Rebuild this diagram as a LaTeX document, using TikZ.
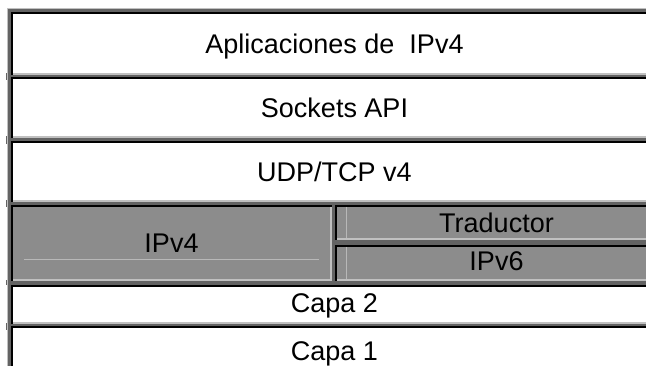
\documentclass[tikz,border=0pt]{standalone}
\usepackage{fontspec}
\setmainfont{Liberation Sans}
\usetikzlibrary{positioning,calc}
\definecolor{tbdark}{HTML}{636363}
\definecolor{tblight}{HTML}{C0C0C0}
\definecolor{tbgray}{HTML}{8C8C8C}
\tikzset{
  layer/.style={fill=white, inner sep=0pt, outer sep=0pt, minimum width=647pt,
    text height=19.3pt, text depth=0pt, font=\fontsize{27}{32}\selectfont},
  graylayer/.style={layer, fill=tbgray},
  rimlight/.style={draw=tblight, line width=2pt},
  rimdark/.style={draw=black, line width=2pt},
  faint/.style={draw=tblight!85!tbgray, line width=0.8pt},
  tickmark/.style={fill=tbdark}
}
\newcommand{\cellrim}[1]{%
  \draw[rimlight] ($(#1.south west)+(0,1)$) -- ($(#1.south east)+(-1,1)$) -- ($(#1.north east)+(-1,0)$);
  \draw[rimdark] ($(#1.south west)+(1,0)$) -- ($(#1.north west)+(1,-1)$) -- ($(#1.north east)+(0,-1)$);}

\begin{document}
\begin{tikzpicture}[x=1pt, y=1pt, node distance=3pt]
  \useasboundingbox (0,0) rectangle (646,366);
  \fill[white] (0,0) rectangle (646,366);
  \clip (0,0) rectangle (646,366);
  \fill[tblight] (7,-5) rectangle (660,358);
  \fill[tbdark] (8,-5) rectangle (660,357);
  \foreach \y/\h in {286/7, 222/8, 159/7, 81/5, 36/7}
    \fill[tickmark] (5.8,\y) rectangle (7.2,{\y+\h});

  \node[layer, minimum height=62.4pt, anchor=north west] (apps) at (11,353.7) {Aplicaciones de\ \ IPv4};
  \node[layer, minimum height=60.7pt, below=2.6pt of apps] (sockets) {Sockets API};
  \node[layer, minimum height=60.7pt, below=3.3pt of sockets] (udptcp) {UDP/TCP v4};
  \node[graylayer, minimum width=321pt, minimum height=75.7pt, below=3pt of udptcp.south west, anchor=north west] (ipvfour) {IPv4};
  \node[graylayer, minimum width=323pt, minimum height=35pt, right=3pt of ipvfour.north east, anchor=north west] (traductor) {Traductor};
  \node[graylayer, minimum width=323pt, minimum height=36pt, text depth=5pt, below=5pt of traductor] (ipvsix) {IPv6};
  \node[layer, minimum height=39pt, text depth=4pt, below=4.3pt of ipvfour.south west, anchor=north west] (capados) {Capa 2};
  \node[layer, minimum height=54pt, text depth=4pt, below=2.3pt of capados] (capauno) {Capa 1};

  \foreach \c in {apps,sockets,udptcp,ipvfour,traductor,ipvsix,capados,capauno}
    \cellrim{\c};

  \draw[faint] ($(ipvfour.south west)+(13,21.7)$) -- ($(ipvfour.south east)+(-13,21.7)$);
  \draw[faint] ($(traductor.north west)+(11,-2)$) -- ($(traductor.south west)+(11,2)$);
  \draw[faint] ($(ipvsix.north west)+(11,-2)$) -- ($(ipvsix.south west)+(11,2)$);
\end{tikzpicture}
\end{document}
